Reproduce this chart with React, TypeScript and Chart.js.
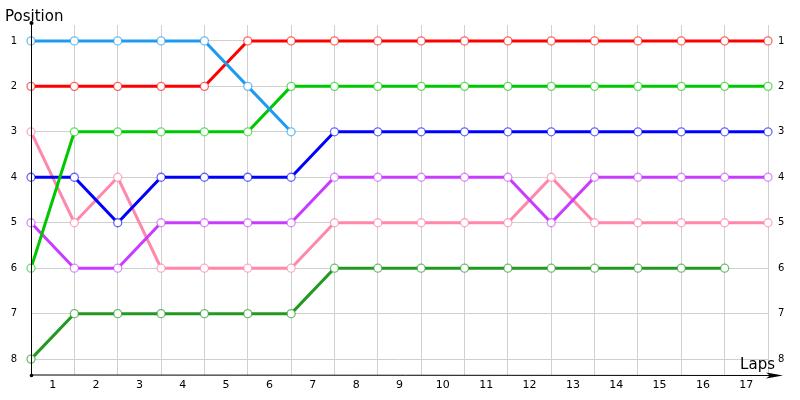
import { useEffect, useRef } from 'react'
import { Chart, registerables } from 'chart.js'

Chart.register(...registerables)

// lap boundaries 0..17, labels 1..17 sit between them
const lapLabels = ['1', '2', '3', '4', '5', '6', '7', '8', '9', '10', '11', '12', '13', '14', '15', '16', '17']
const positions = [1, 2, 3, 4, 5, 6, 7, 8]

const skyBlue = [1, 1, 1, 1, 1, 2, 3]
const red = [2, 2, 2, 2, 2, 1, 1, 1, 1, 1, 1, 1, 1, 1, 1, 1, 1, 1]
const green = [6, 3, 3, 3, 3, 3, 2, 2, 2, 2, 2, 2, 2, 2, 2, 2, 2, 2]
const blue = [4, 4, 5, 4, 4, 4, 4, 3, 3, 3, 3, 3, 3, 3, 3, 3, 3, 3]
const purple = [5, 6, 6, 5, 5, 5, 5, 4, 4, 4, 4, 4, 5, 4, 4, 4, 4, 4]
const pink = [3, 5, 4, 6, 6, 6, 6, 5, 5, 5, 5, 5, 4, 5, 5, 5, 5, 5]
const darkGreen = [8, 7, 7, 7, 7, 7, 7, 6, 6, 6, 6, 6, 6, 6, 6, 6, 6]

const series = [
  { data: skyBlue, color: '#1E9BF0', point: 'rgba(30,155,240,0.65)' },
  { data: red, color: '#FF0000', point: 'rgba(255,0,0,0.6)' },
  { data: green, color: '#00C800', point: 'rgba(0,200,0,0.6)' },
  { data: blue, color: '#0000FF', point: 'rgba(0,0,255,0.6)' },
  { data: purple, color: '#C83CFF', point: 'rgba(200,60,255,0.6)' },
  { data: pink, color: '#FF88AA', point: 'rgba(255,136,170,0.7)' },
  { data: darkGreen, color: '#229A22', point: 'rgba(34,154,34,0.65)' },
]

const FONT = "'DejaVu Sans', sans-serif"

const axesPlugin = {
  id: 'axesDecor',
  afterDraw(chart: any) {
    const { ctx, chartArea } = chart
    const { left, top, right, bottom } = chartArea
    ctx.save()
    ctx.strokeStyle = '#000'
    ctx.fillStyle = '#000'
    ctx.lineWidth = 1
    ctx.beginPath()
    ctx.moveTo(left + 0.5, top - 2)
    ctx.lineTo(left + 0.5, bottom)
    ctx.lineTo(right + 12, bottom + 0.5)
    ctx.stroke()
    // dots at axis ends
    ctx.beginPath()
    ctx.arc(left + 0.5, top - 2, 2, 0, Math.PI * 2)
    ctx.fill()
    ctx.beginPath()
    ctx.arc(left + 0.5, bottom + 0.5, 1.8, 0, Math.PI * 2)
    ctx.fill()
    // arrowhead
    ctx.beginPath()
    ctx.moveTo(right + 15, bottom + 0.5)
    ctx.lineTo(right - 2, bottom - 2.5)
    ctx.lineTo(right + 2, bottom + 0.5)
    ctx.lineTo(right - 2, bottom + 3.5)
    ctx.closePath()
    ctx.fill()
    ctx.font = '15px ' + FONT
    ctx.textBaseline = 'alphabetic'
    ctx.textAlign = 'left'
    ctx.fillText('Position', 5, 21)
    ctx.textAlign = 'right'
    ctx.fillText('Laps', right + 7, bottom - 6)
    ctx.restore()
  },
}

export default function App() {
  const chartRef = useRef<HTMLCanvasElement>(null)
  const chartInstance = useRef<any>(null)

  useEffect(() => {
    if (chartInstance.current) chartInstance.current.destroy()

    const yTicks = (scale: any) => {
      scale.ticks = positions.map((v) => ({ value: v }))
    }

    chartInstance.current = new Chart(chartRef.current as any, {
      type: 'line',
      data: {
        datasets: series.map((s) => ({
          data: s.data.map((y, i) => ({ x: i, y })),
          borderColor: s.color,
          borderWidth: 3,
          pointRadius: 4,
          pointBorderWidth: 1.3,
          pointBackgroundColor: '#fff',
          pointBorderColor: s.point,
          tension: 0,
          clip: false as any,
          yAxisID: 'y',
        })),
      },
      plugins: [axesPlugin],
      options: {
        animation: false,
        responsive: true,
        maintainAspectRatio: false,
        layout: { padding: { top: 25, left: 0, right: 0, bottom: 0 } },
        plugins: {
          legend: { display: false },
          tooltip: { enabled: false },
        },
        scales: {
          x: {
            type: 'linear',
            min: 0,
            max: 17,
            afterBuildTicks: (scale: any) => {
              const t = []
              for (let i = 0; i <= 34; i++) t.push({ value: i / 2 })
              scale.ticks = t
            },
            afterFit: (scale: any) => {
              scale.height = 25
            },
            border: { display: false },
            grid: {
              drawTicks: false,
              color: (c: any) => (c.tick && c.tick.value % 1 === 0 ? '#d0d0d0' : 'rgba(0,0,0,0)'),
            },
            ticks: {
              autoSkip: false,
              maxRotation: 0,
              padding: 4,
              color: '#000',
              font: { family: FONT, size: 11 },
              callback: (v: any) => (v % 1 !== 0 ? lapLabels[Math.floor(v)] : ''),
            },
          },
          y: {
            type: 'linear',
            position: 'left',
            reverse: true,
            min: 0.65,
            max: 8.35,
            afterBuildTicks: yTicks,
            afterFit: (scale: any) => {
              scale.width = 31
            },
            border: { display: false },
            grid: { drawTicks: false, color: '#d0d0d0' },
            ticks: {
              padding: 14,
              color: '#000',
              font: { family: FONT, size: 10 },
            },
          },
          y2: {
            type: 'linear',
            position: 'right',
            reverse: true,
            min: 0.65,
            max: 8.35,
            afterBuildTicks: yTicks,
            afterFit: (scale: any) => {
              scale.width = 32
            },
            border: { display: false },
            grid: { display: false, drawTicks: false },
            ticks: {
              padding: 10,
              color: '#000',
              font: { family: FONT, size: 10 },
            },
          },
        },
      } as any,
    })

    return () => {
      if (chartInstance.current) chartInstance.current.destroy()
    }
  }, [])

  return (
    <div style={{ position: 'fixed', left: 0, top: 0, width: 800, height: 400, background: '#fff' }}>
      <canvas ref={chartRef} />
    </div>
  )
}
